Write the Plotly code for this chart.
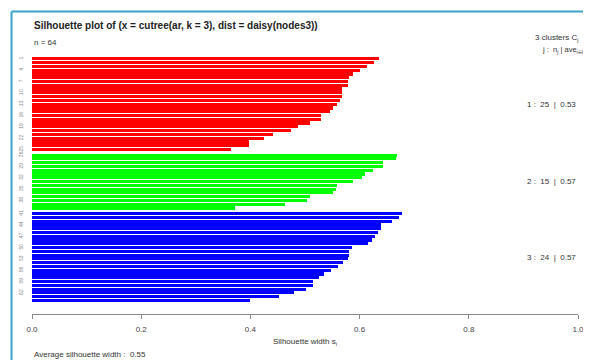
import plotly.graph_objects as go

# silhouette widths per cluster (sorted)
cluster1 = [0.636, 0.626, 0.613, 0.600, 0.587, 0.581, 0.579, 0.578, 0.568, 0.568,
            0.567, 0.564, 0.558, 0.552, 0.546, 0.529, 0.529, 0.510, 0.487, 0.474,
            0.442, 0.424, 0.398, 0.398, 0.364]
cluster2 = [0.668, 0.666, 0.643, 0.643, 0.625, 0.610, 0.605, 0.588, 0.559, 0.556,
            0.552, 0.510, 0.504, 0.464, 0.372]
cluster3 = [0.677, 0.672, 0.660, 0.640, 0.639, 0.633, 0.629, 0.622, 0.615, 0.586,
            0.581, 0.581, 0.578, 0.569, 0.561, 0.548, 0.534, 0.525, 0.515, 0.515,
            0.501, 0.480, 0.452, 0.399]
cluster_ids = ["1", "2", "3"]
cluster_sizes = [25, 15, 24]
cluster_avgs = ["0.53", "0.57", "0.57"]
cluster_colors = ["#ff0000", "#00ff00", "#0000ff"]
avg_width_text = "0.55"
n_obs = 64
x_tick_vals = [0.0, 0.2, 0.4, 0.6, 0.8, 1.0]
x_tick_text = ["0.0", "0.2", "0.4", "0.6", "0.8", "1.0"]

FONT = "Liberation Sans, Arial, sans-serif"
OFF = 8  # default page body margin
W, H = 591 - OFF, 360 - OFF
PLOT_L, PLOT_R, PLOT_T, PLOT_B = 32, 578, 57, 314  # page pixels
ML = PLOT_L - OFF
MR = W - (PLOT_R - OFF)
MT = PLOT_T - OFF
MB = H - (PLOT_B - OFF)
PW = W - ML - MR
PH = H - MT - MB


def px_to_paper_x(px):
    return (px - PLOT_L) / PW


def px_to_paper_y(py):
    return (PLOT_B - py) / PH


fig = go.Figure()
pos = 0.0
centers = []
tick_vals = []
tick_text = []
obs = 1
for vals, col in zip([cluster1, cluster2, cluster3], cluster_colors):
    ys = [pos + i for i in range(len(vals))]
    fig.add_trace(go.Bar(
        x=vals, y=ys, orientation="h", width=0.84,
        marker=dict(color=col, line=dict(width=0)),
        showlegend=False, hoverinfo="x",
    ))
    centers.append(sum(ys) / len(ys))
    for i, yv in enumerate(ys):
        if i % 3 == 0:
            tick_vals.append(yv)
            tick_text.append(str(obs + i))
    obs += len(vals)
    pos += len(vals) + 0.5

y_bottom = pos - 0.5 + 2.6

fig.update_layout(
    width=W, height=H, autosize=False,
    margin=dict(l=ML, r=MR, t=MT, b=MB, pad=0),
    paper_bgcolor="white", plot_bgcolor="white",
    font=dict(family=FONT, size=8, color="#333333"),
    bargap=0,
    xaxis=dict(
        range=[0, 1], tickvals=x_tick_vals, ticktext=x_tick_text,
        showgrid=False, zeroline=False, showline=True, linecolor="#888888",
        linewidth=1, ticks="outside", ticklen=4, tickcolor="#888888",
        tickfont=dict(size=8, color="#444444"), ticklabelstandoff=3,
        automargin=False,
    ),
    yaxis=dict(
        range=[y_bottom, -0.5], showgrid=False, zeroline=False, showline=False,
        tickvals=tick_vals, ticktext=tick_text, ticks="",
        tickangle=-90, tickfont=dict(size=5, color="#888888"),
        ticklabelstandoff=7, automargin=False,
    ),
)

annotations = [
    dict(text="<b>Silhouette plot of (x = cutree(ar, k = 3), dist = daisy(nodes3))</b>",
         x=0, y=px_to_paper_y(26), xref="paper", yref="paper",
         xanchor="left", yanchor="middle", showarrow=False,
         font=dict(size=10, color="#222222", family=FONT)),
    dict(text="n = %d" % n_obs,
         x=0, y=px_to_paper_y(42), xref="paper", yref="paper",
         xanchor="left", yanchor="middle", showarrow=False,
         font=dict(size=8, color="#333333", family=FONT)),
    dict(text="3 clusters C<sub>j</sub>",
         x=px_to_paper_x(533), y=px_to_paper_y(38), xref="paper", yref="paper",
         xanchor="left", yanchor="middle", showarrow=False,
         font=dict(size=8, color="#333333", family=FONT)),
    dict(text="j :  n<sub>j</sub> | ave<sub>i∈Cj</sub>",
         x=px_to_paper_x(589), y=px_to_paper_y(50), xref="paper", yref="paper",
         xanchor="right", yanchor="middle", showarrow=False,
         font=dict(size=7.5, color="#333333", family=FONT)),
    dict(text="Silhouette width s<sub>i</sub>",
         x=0.5, y=px_to_paper_y(342), xref="paper", yref="paper",
         xanchor="center", yanchor="middle", showarrow=False,
         font=dict(size=8, color="#333333", family=FONT)),
    dict(text="Average silhouette width :  " + avg_width_text,
         x=0, y=px_to_paper_y(354), xref="paper", yref="paper",
         xanchor="left", yanchor="middle", showarrow=False,
         font=dict(size=8, color="#333333", family=FONT)),
]
for cid, size, avg, cy in zip(cluster_ids, cluster_sizes, cluster_avgs, centers):
    annotations.append(dict(
        text="%s :  %d  |  %s" % (cid, size, avg),
        x=1.0, y=cy, xref="paper", yref="y",
        xanchor="right", yanchor="middle", showarrow=False,
        font=dict(size=8, color="#333333", family=FONT)))
fig.update_layout(annotations=annotations)

# frame lines of the surrounding panel
frame_col = "#3ea2c9"
fig.add_shape(type="line", xref="paper", yref="paper",
              x0=px_to_paper_x(11.5), x1=px_to_paper_x(600),
              y0=px_to_paper_y(11.5), y1=px_to_paper_y(11.5),
              line=dict(color=frame_col, width=2))
fig.add_shape(type="line", xref="paper", yref="paper",
              x0=px_to_paper_x(11.5), x1=px_to_paper_x(11.5),
              y0=px_to_paper_y(11.5), y1=px_to_paper_y(370),
              line=dict(color=frame_col, width=2))

fig.write_html("out.html")
